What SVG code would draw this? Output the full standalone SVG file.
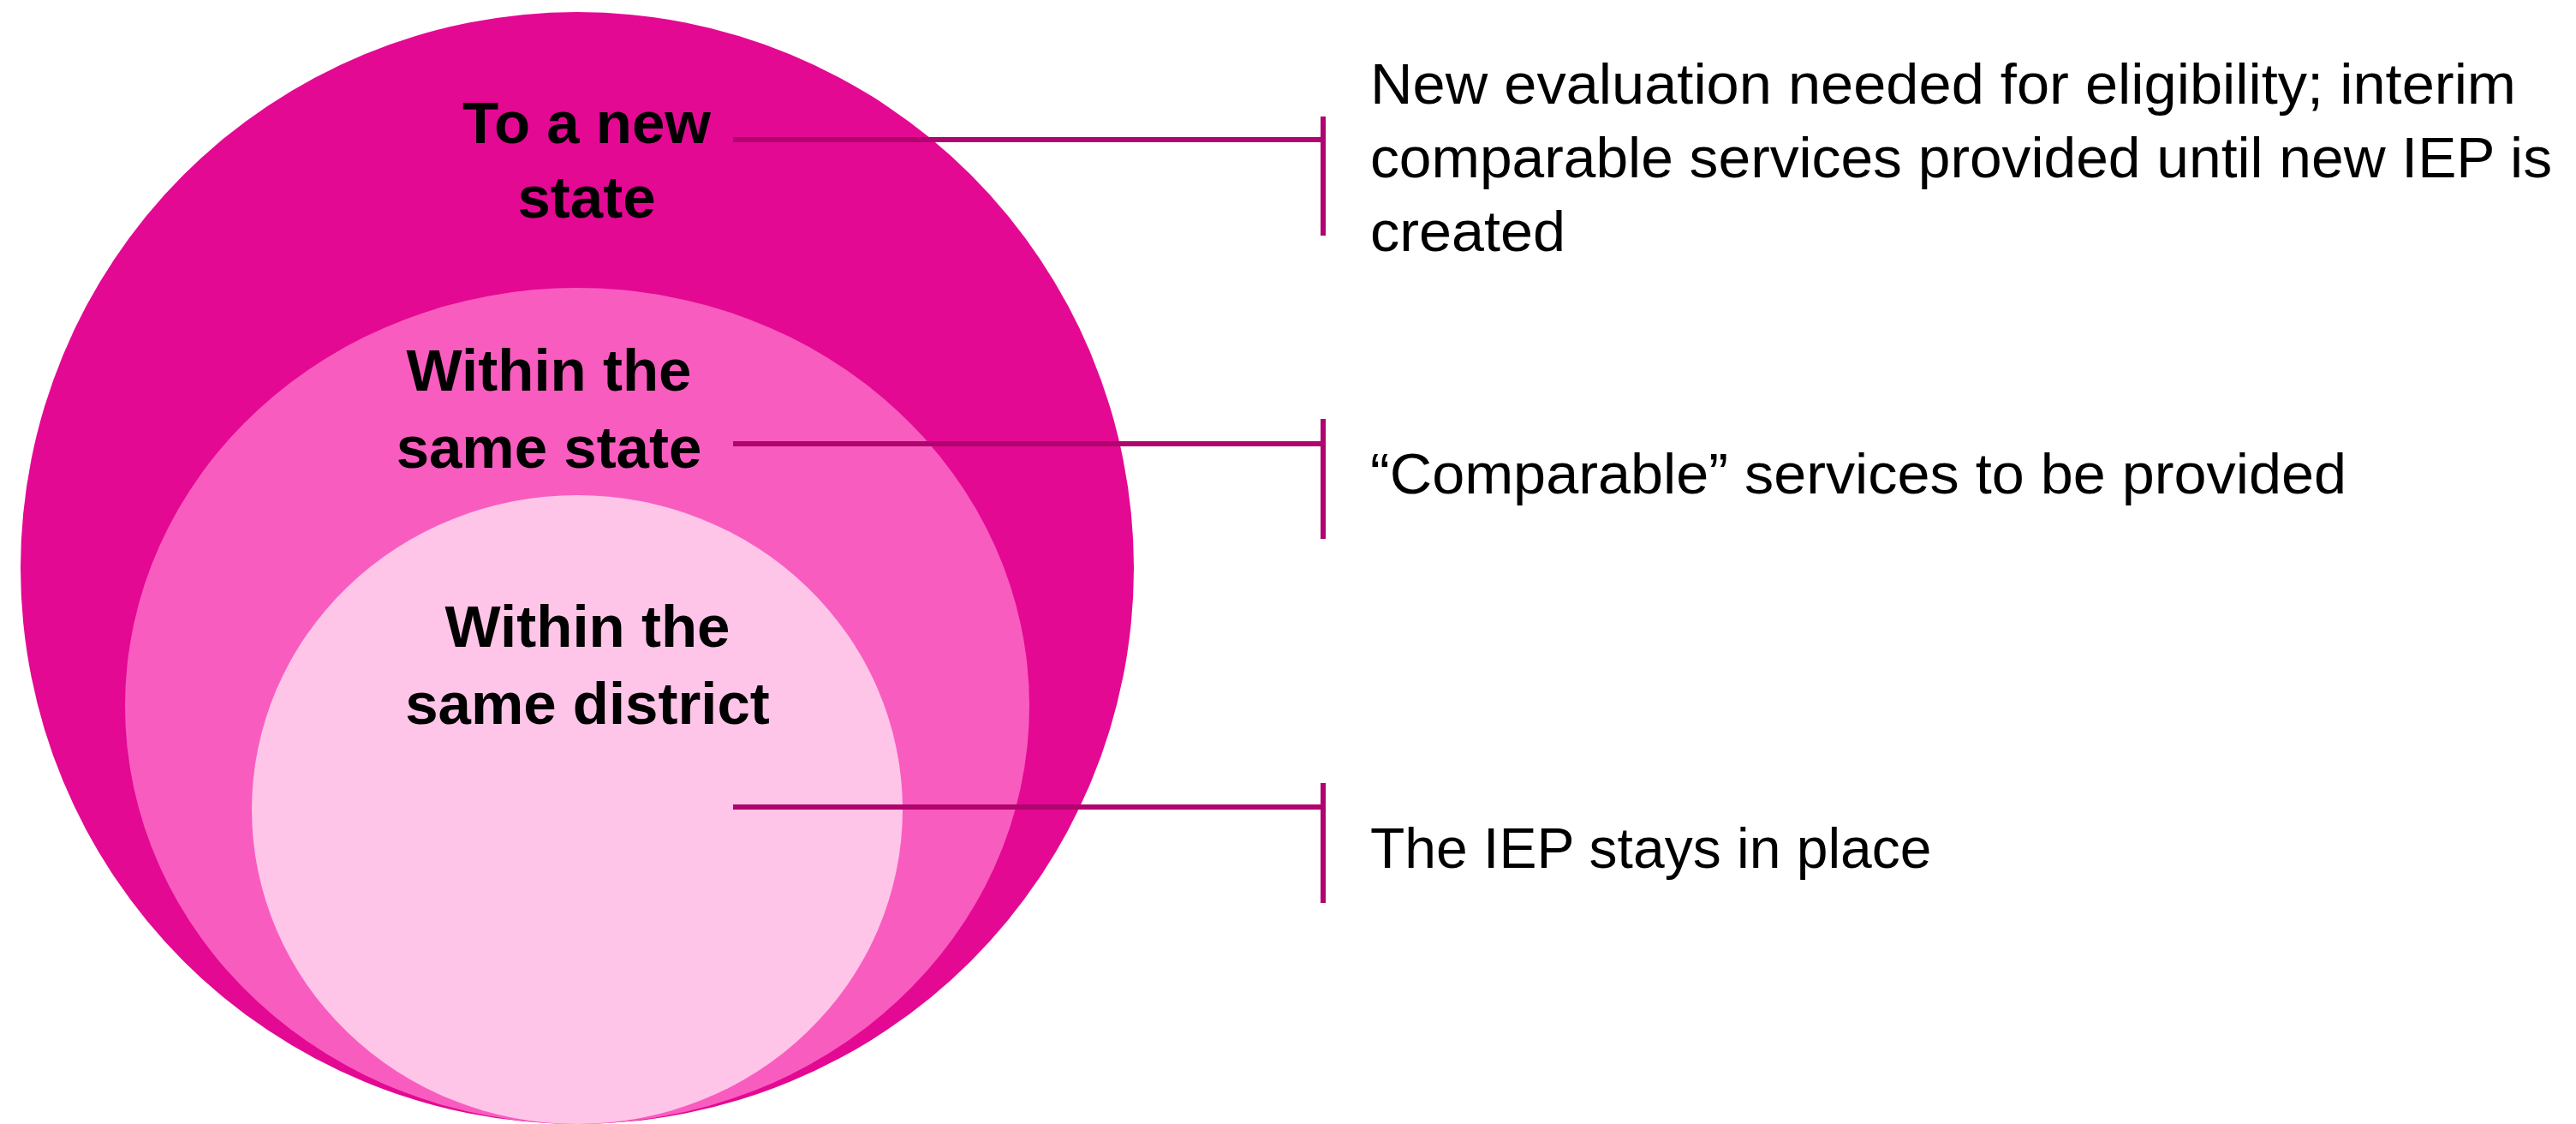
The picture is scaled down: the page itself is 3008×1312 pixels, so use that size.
<svg xmlns="http://www.w3.org/2000/svg" width="3008" height="1312" viewBox="0 0 3008 1312">
  <style>
    .ring-outer { fill: #E30993; }
    .ring-mid { fill: #F95CBF; }
    .ring-inner { fill: #FEC5E8; }
    .label { font-family: "Liberation Sans", Arial, sans-serif; font-weight: bold; font-size: 69px; fill: #000; text-anchor: middle; }
    .note { font-family: "Liberation Sans", Arial, sans-serif; font-size: 66px; fill: #000; }
    .leader { stroke: #B0046F; stroke-width: 6; fill: none; }
  </style>
  <rect width="3008" height="1312" fill="#FFFFFF"/>

  <!-- nested rings: new state > same state > same district -->
  <g id="node-new-state">
    <ellipse class="ring-outer" cx="674" cy="663" rx="650" ry="649"/>
    <text class="label" x="685" y="167">To a new</text>
    <text class="label" x="685" y="254">state</text>
  </g>
  <g id="node-same-state">
    <ellipse class="ring-mid" cx="674" cy="824" rx="528" ry="488"/>
    <text class="label" x="641" y="456">Within the</text>
    <text class="label" x="641" y="546">same state</text>
  </g>
  <g id="node-same-district">
    <ellipse class="ring-inner" cx="674" cy="945" rx="380" ry="367"/>
    <text class="label" x="686" y="755">Within the</text>
    <text class="label" x="686" y="845">same district</text>
  </g>

  <!-- leader lines with brackets -->
  <g id="connectors">
    <path class="leader" d="M856 163 H1545 M1545 136 V275"/>
    <path class="leader" d="M856 518 H1545 M1545 489 V629"/>
    <path class="leader" d="M856 942 H1545 M1545 914 V1054"/>
  </g>

  <!-- descriptions -->
  <g id="note-new-state">
    <text class="note" x="1600" y="121" textLength="1338" lengthAdjust="spacingAndGlyphs">New evaluation needed for eligibility; interim</text>
    <text class="note" x="1600" y="207" textLength="1380" lengthAdjust="spacingAndGlyphs">comparable services provided until new IEP is</text>
    <text class="note" x="1600" y="293" textLength="228" lengthAdjust="spacingAndGlyphs">created</text>
  </g>
  <g id="note-same-state">
    <text class="note" x="1600" y="576" textLength="1140" lengthAdjust="spacingAndGlyphs">“Comparable” services to be provided</text>
  </g>
  <g id="note-same-district">
    <text class="note" x="1600" y="1013">The IEP stays in place</text>
  </g>
</svg>
